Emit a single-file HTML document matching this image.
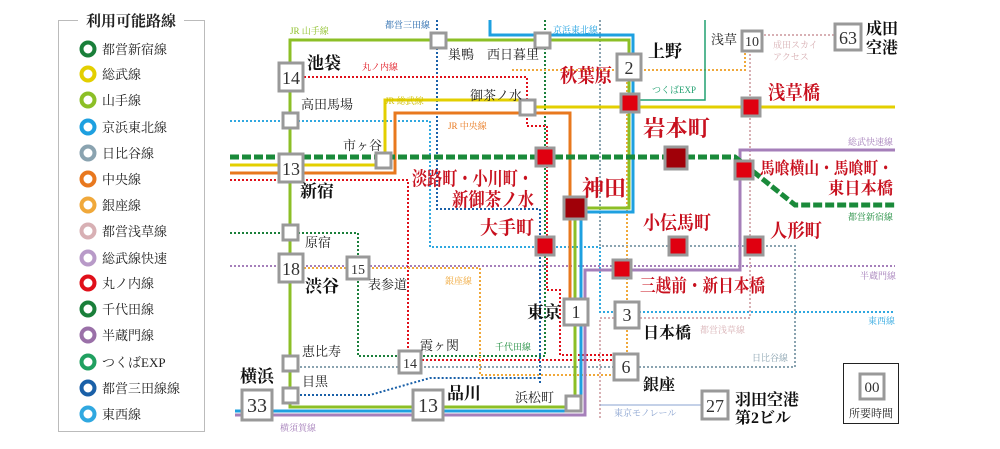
<!DOCTYPE html>
<html><head><meta charset="utf-8"><style>
body{margin:0;background:#fff;width:1000px;height:444px;overflow:hidden}
svg text{font-family:"Liberation Serif","Noto Serif CJK SC","Noto Sans CJK JP",serif}
</style></head><body>
<svg width="1000" height="444" viewBox="0 0 1000 444" xmlns="http://www.w3.org/2000/svg">
<!-- Legend -->
<rect x="58.5" y="20.5" width="146" height="411" fill="none" stroke="#bbb"/>
<rect x="78" y="12" width="106" height="16" fill="#fff"/>
<text x="131" y="26" font-size="15" font-weight="bold" text-anchor="middle" fill="#222">利用可能路線</text>
<g fill="none" stroke-width="4">
<circle cx="88" cy="49" r="6.5" stroke="#1a7f3a"/>
<circle cx="88" cy="74" r="6.5" stroke="#e3cf00"/>
<circle cx="88" cy="100" r="6.5" stroke="#8cbf26"/>
<circle cx="88" cy="127" r="6.5" stroke="#1ea0e0"/>
<circle cx="88" cy="153" r="6.5" stroke="#8aa3b0"/>
<circle cx="88" cy="179" r="6.5" stroke="#e8781e"/>
<circle cx="88" cy="205" r="6.5" stroke="#f0a83a"/>
<circle cx="88" cy="231" r="6.5" stroke="#d8b0b4"/>
<circle cx="88" cy="258" r="6.5" stroke="#b89ac8"/>
<circle cx="88" cy="283" r="6.5" stroke="#e0101a"/>
<circle cx="88" cy="309" r="6.5" stroke="#1a7f3a"/>
<circle cx="88" cy="335" r="6.5" stroke="#9a70a8"/>
<circle cx="88" cy="362" r="6.5" stroke="#20a060"/>
<circle cx="88" cy="388" r="6.5" stroke="#1a60a8"/>
<circle cx="88" cy="414" r="6.5" stroke="#30a8e0"/>
</g>
<g font-size="13" fill="#222">
<text x="102" y="54">都営新宿線</text><text x="102" y="79">総武線</text><text x="102" y="105">山手線</text>
<text x="102" y="132">京浜東北線</text><text x="102" y="158">日比谷線</text><text x="102" y="184">中央線</text>
<text x="102" y="210">銀座線</text><text x="102" y="236">都営浅草線</text><text x="102" y="263">総武線快速</text>
<text x="102" y="288">丸ノ内線</text><text x="102" y="314">千代田線</text><text x="102" y="340">半蔵門線</text>
<text x="102" y="367">つくばEXP</text><text x="102" y="393">都営三田線線</text><text x="102" y="419">東西線</text>
</g>

<!-- dotted lines -->
<g fill="none" stroke-width="2" stroke-dasharray="2,2">
<path d="M230 266H895" stroke="#a57fba"/>
<path d="M230 121H430V247H600V312H895" stroke="#30a8e0"/>
<path d="M437 20V209H540V385" stroke="#1a60a8"/>
<path d="M300 395H370L430 378H540" stroke="#1a60a8"/>
<path d="M545 20V356H358V233H230" stroke="#1a7f3a"/>
<path d="M300 77H527V126H547V290H560V355H620" stroke="#e0101a"/>
<path d="M230 180H408V360H620" stroke="#e0101a"/>
<path d="M300 367H620" stroke="#8aa3b0"/>
<path d="M600 20V246H795V367H630" stroke="#8aa3b0"/>
<path d="M300 268H480V375H620" stroke="#f0a83a"/>
<path d="M512 70H745V40M627 70V370" stroke="#f0a83a"/>
<path d="M750 50V318H600V420" stroke="#d8b0b4"/>
<path d="M760 35H840" stroke="#d8b0b4"/>
</g>
<!-- solid lines -->
<g fill="none">
<path d="M705 20V100H640" stroke="#20a070" stroke-width="1.5"/>
<path d="M385 165H230M385 165V100H525V107H895" stroke="#e3cf00" stroke-width="3"/>
<path d="M230 173H395V113H570V300" stroke="#e8781e" stroke-width="3"/>
<path d="M290 40V407H575V208H629V40Z" stroke="#8cbf26" stroke-width="3"/>
<path d="M490 20V35H633V212H581V411H235" stroke="#1ea0e0" stroke-width="3"/>
<path d="M235 415H585V270H740V150H895" stroke="#a57fba" stroke-width="3"/>
<path d="M600 405H715" stroke="#8aa3d0" stroke-width="1"/>
<path d="M230 157H735L795 205H895" stroke="#1a8a3a" stroke-width="5" stroke-dasharray="9,3"/>
</g>

<!-- station boxes -->
<g fill="#fff" stroke="#999" stroke-width="3">
<rect x="279" y="63" width="24" height="28"/>
<rect x="283" y="113" width="15" height="15"/>
<rect x="279" y="154" width="24" height="28"/>
<rect x="283" y="225" width="15" height="15"/>
<rect x="279" y="254" width="24" height="28"/>
<rect x="347" y="257" width="22" height="22"/>
<rect x="283" y="356" width="15" height="15"/>
<rect x="283" y="388" width="15" height="15"/>
<rect x="242" y="390" width="30" height="30"/>
<rect x="413" y="390" width="30" height="30"/>
<rect x="566" y="396" width="15" height="15"/>
<rect x="399" y="351" width="22" height="22"/>
<rect x="564" y="299" width="24" height="26"/>
<rect x="615" y="302" width="24" height="26"/>
<rect x="614" y="354" width="24" height="26"/>
<rect x="702" y="391" width="26" height="28"/>
<rect x="617" y="54" width="24" height="26"/>
<rect x="742" y="31" width="20" height="20"/>
<rect x="835" y="24" width="26" height="26"/>
<rect x="431" y="33" width="15" height="15"/>
<rect x="535" y="33" width="15" height="15"/>
<rect x="520" y="100" width="15" height="15"/>
<rect x="376" y="153" width="15" height="15"/>
</g>
<g fill="#e00010" stroke="#999" stroke-width="3">
<rect x="621" y="94" width="18" height="18"/>
<rect x="742" y="98" width="18" height="18"/>
<rect x="536" y="148" width="18" height="18"/>
<rect x="735" y="161" width="18" height="18"/>
<rect x="536" y="237" width="18" height="18"/>
<rect x="669" y="237" width="18" height="18"/>
<rect x="745" y="237" width="18" height="18"/>
<rect x="613" y="260" width="18" height="18"/>
</g>
<g fill="#a00008" stroke="#999" stroke-width="3">
<rect x="665" y="147" width="22" height="22"/>
<rect x="564" y="197" width="22" height="22"/>
</g>
<g font-size="18" text-anchor="middle" fill="#333">
<text x="291" y="84">14</text><text x="291" y="175">13</text><text x="291" y="275">18</text>
<text x="358" y="274" font-size="14">15</text><text x="257" y="412" font-size="20">33</text>
<text x="428" y="412" font-size="20">13</text><text x="410" y="368" font-size="14">14</text>
<text x="576" y="318">1</text><text x="627" y="321">3</text><text x="626" y="373">6</text>
<text x="715" y="412">27</text><text x="629" y="74">2</text><text x="752" y="46" font-size="14">10</text>
<text x="848" y="44">63</text>
</g>

<!-- black labels -->
<g font-size="13" fill="#222">
<text x="301" y="109">高田馬場</text><text x="343" y="150">市ヶ谷</text><text x="305" y="247">原宿</text>
<text x="368" y="289">表参道</text><text x="302" y="356">恵比寿</text><text x="302" y="386">目黒</text>
<text x="420" y="350">霞ヶ関</text><text x="515" y="402">浜松町</text><text x="448" y="59">巣鴨</text>
<text x="487" y="59">西日暮里</text><text x="470" y="100">御茶ノ水</text><text x="711" y="44">浅草</text>
</g>
<g font-size="17" font-weight="bold" fill="#111">
<text x="307" y="69">池袋</text><text x="300" y="197">新宿</text><text x="305" y="292">渋谷</text>
<text x="240" y="382">横浜</text><text x="447" y="399">品川</text><text x="527" y="318">東京</text>
<text x="643" y="338" font-size="16">日本橋</text><text x="643" y="390" font-size="16">銀座</text>
<text x="648" y="57">上野</text>
<text x="866" y="34" font-size="16">成田</text><text x="866" y="53" font-size="16">空港</text>
<text x="735" y="405" font-size="16">羽田空港</text><text x="735" y="423" font-size="16">第2ビル</text>
</g>
<g font-weight="bold" fill="#c8101e">
<text x="560" y="82" font-size="19" textLength="52" lengthAdjust="spacingAndGlyphs">秋葉原</text>
<text x="643" y="136" font-size="22" textLength="67" lengthAdjust="spacingAndGlyphs">岩本町</text>
<text x="412" y="185" font-size="19" textLength="121" lengthAdjust="spacingAndGlyphs">淡路町・小川町・</text>
<text x="452" y="206" font-size="19" textLength="82" lengthAdjust="spacingAndGlyphs">新御茶ノ水</text>
<text x="582" y="196" font-size="22" textLength="44" lengthAdjust="spacingAndGlyphs">神田</text>
<text x="480" y="234" font-size="19" textLength="54" lengthAdjust="spacingAndGlyphs">大手町</text>
<text x="643" y="229" font-size="19" textLength="68" lengthAdjust="spacingAndGlyphs">小伝馬町</text>
<text x="770" y="237" font-size="19" textLength="52" lengthAdjust="spacingAndGlyphs">人形町</text>
<text x="768" y="99" font-size="19" textLength="52" lengthAdjust="spacingAndGlyphs">浅草橋</text>
<text x="760" y="174" font-size="17" textLength="133" lengthAdjust="spacingAndGlyphs">馬喰横山・馬喰町・</text>
<text x="828" y="194" font-size="17" textLength="65" lengthAdjust="spacingAndGlyphs">東日本橋</text>
<text x="640" y="292" font-size="18" textLength="125" lengthAdjust="spacingAndGlyphs">三越前・新日本橋</text>
</g>
<!-- line labels -->
<g font-size="9">
<text x="290" y="34" fill="#8cbf26">JR 山手線</text><text x="385" y="28" fill="#1a60a8">都営三田線</text>
<text x="553" y="33" fill="#1ea0e0">京浜東北線</text><text x="362" y="70" fill="#e0101a">丸ノ内線</text>
<text x="385" y="104" fill="#d0c000">JR 総武線</text><text x="448" y="129" fill="#e8781e">JR 中央線</text>
<text x="652" y="93" fill="#20a070">つくばEXP</text><text x="773" y="48" fill="#d8b0b4">成田スカイ</text>
<text x="773" y="60" fill="#d8b0b4">アクセス</text><text x="848" y="145" fill="#a57fba">総武快速線</text>
<text x="848" y="220" fill="#1a8a3a">都営新宿線</text><text x="860" y="279" fill="#a57fba">半蔵門線</text>
<text x="868" y="324" fill="#30a8e0">東西線</text><text x="700" y="333" fill="#d8b0b4">都営浅草線</text>
<text x="752" y="361" fill="#8aa3b0">日比谷線</text><text x="495" y="350" fill="#1a8a3a">千代田線</text>
<text x="445" y="284" fill="#f0a83a">銀座線</text><text x="280" y="431" fill="#a57fba">横須賀線</text>
<text x="614" y="416" fill="#8aa3d0">東京モノレール</text>
</g>
<!-- key -->
<rect x="843.5" y="363.5" width="55" height="60" fill="#fff" stroke="#222"/>
<rect x="860" y="374" width="24" height="25" fill="#fff" stroke="#999" stroke-width="3"/>
<text x="872" y="392" font-size="15" text-anchor="middle" fill="#333">00</text>
<text x="871" y="417" font-size="11" text-anchor="middle" fill="#222">所要時間</text>
</svg>
</body></html>
